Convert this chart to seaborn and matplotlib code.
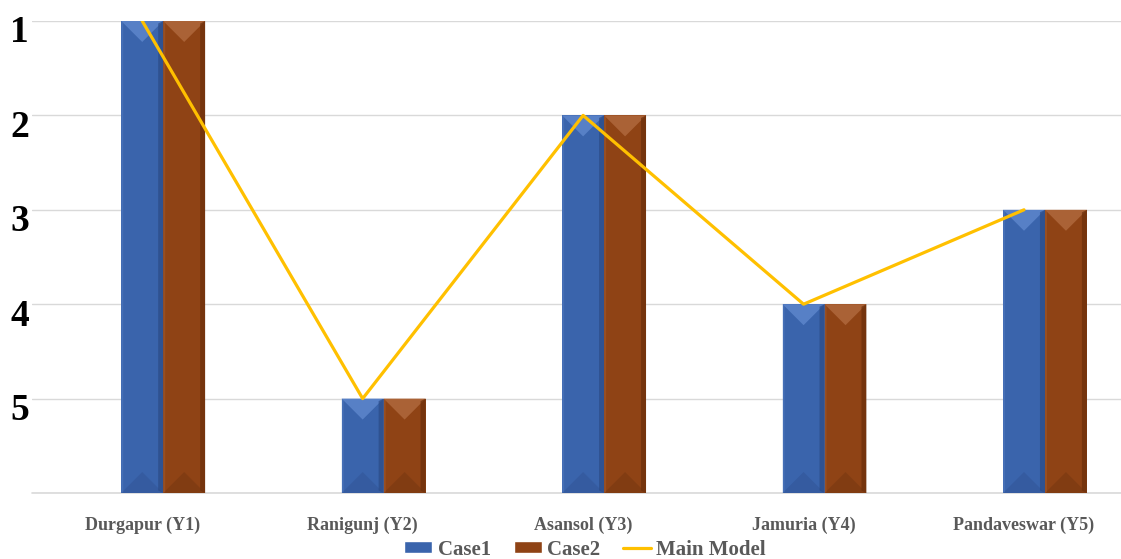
import numpy as np
import pandas as pd
import seaborn as sns
import matplotlib.pyplot as plt
import matplotlib.transforms as mtrans
from matplotlib.patches import Polygon, Patch
from matplotlib.lines import Line2D

# ranks per place (1 = best, drawn at top)
places = ["Durgapur (Y1)", "Ranigunj (Y2)", "Asansol (Y3)", "Jamuria (Y4)", "Pandaveswar (Y5)"]
case1 = [1, 5, 2, 4, 3]
case2 = [1, 5, 2, 4, 3]
main_model = [1, 5, 2, 4, 3]
rank_labels = ["1", "2", "3", "4", "5"]
BASE = 6  # bars grow up from rank 6

blue = "#3A64AC"
brown = "#8F4315"
gold = "#FFC000"
grey = "#595959"

sns.set_style("white")
plt.rcParams["font.family"] = ["Liberation Serif", "DejaVu Serif"]
plt.rcParams["font.weight"] = "bold"

df = pd.DataFrame({
    "place": places * 3,
    "series": ["_pad"] * 5 + ["Case1"] * 5 + ["Case2"] * 5,
    "rank": [BASE] * 5 + case1 + case2,
})
df["h"] = BASE - df["rank"]

fig = plt.figure(figsize=(11.21, 5.59), dpi=100)
ax = fig.add_axes([32 / 1121, 66 / 559, 1 - 32 / 1121, (493 - 21) / 559])

sns.barplot(data=df, x="place", y="h", hue="series", hue_order=["_pad", "Case1", "Case2"],
            palette=["white", blue, brown], width=0.571, gap=0, dodge=True,
            saturation=1, linewidth=0, legend=False, ax=ax, zorder=2)

ax.set_xlim(-0.5, 4.44)
ax.set_ylim(0, 5)

# bevel look on each bar
shades = {blue: ("#5780C6", "#33589C", "#2B4B86"), brown: ("#AA6236", "#7C3A12", "#6B2F0B")}
px_per_y = ax.transData.transform((0, 1))[1] - ax.transData.transform((0, 0))[1]
px_per_x = ax.transData.transform((1, 0))[0] - ax.transData.transform((0, 0))[0]
for p in list(ax.patches):
    h = p.get_height()
    if h <= 0:
        continue
    x0, w = p.get_x(), p.get_width()
    x1, xm = x0 + w, x0 + w / 2
    fc = blue if abs(p.get_facecolor()[2] - 0.67) < 0.1 else brown
    top, bot, side = shades[fc]
    d = (w * px_per_x / 2) / px_per_y
    ax.add_patch(Polygon([(x0, h), (x1, h), (xm, h - d)], closed=True, fc=top, lw=0, zorder=2.1))
    ax.add_patch(Polygon([(x0, 0), (x1, 0), (xm, d)], closed=True, fc=bot, lw=0, alpha=0.7, zorder=2.1))
    sw = w * 0.12
    ax.add_patch(Polygon([(x1 - sw, d * 0.12), (x1, 0), (x1, h), (x1 - sw, h - d * 0.12)],
                         closed=True, fc=side, lw=0, alpha=0.7, zorder=2.2))
    ax.add_patch(Polygon([(x0, 0), (x0 + sw * 0.4, d * 0.05), (x0 + sw * 0.4, h - d * 0.05), (x0, h)],
                         closed=True, fc=top, lw=0, alpha=0.4, zorder=2.2))

sns.lineplot(x=np.arange(len(places)), y=BASE - np.array(main_model), color=gold,
             linewidth=2.3, sort=False, ax=ax, zorder=3)

ax.set_yticks(range(6))
ax.set_yticklabels([""] + rank_labels[::-1], fontsize=27, fontweight="bold", color="black")
ax.set_xticks(range(len(places)))
ax.set_xticklabels(places, fontsize=13, fontweight="bold", color=grey)
ax.tick_params(axis="x", length=0, pad=17)
ax.tick_params(axis="y", length=0, pad=2)
for lab in ax.get_yticklabels():
    lab.set_transform(lab.get_transform() + mtrans.ScaledTranslation(0, -8 / 100, fig.dpi_scale_trans))
ax.set_xlabel("")
ax.set_ylabel("")
ax.yaxis.grid(True, color="#D9D9D9", linewidth=1)
ax.axhline(0, color="#D9D9D9", linewidth=1.2, clip_on=False, zorder=1)
ax.set_axisbelow(True)
for s in ax.spines.values():
    s.set_visible(False)

handles = [Patch(facecolor=blue), Patch(facecolor=brown), Line2D([], [], color=gold, linewidth=2.3)]
fig.legend(handles, ["Case1", "Case2", "Main Model"], loc="lower center",
           bbox_to_anchor=(0.522, -0.035), ncol=3, frameon=False,
           prop={"size": 15, "weight": "bold"}, labelcolor=grey,
           handlelength=1.35, handleheight=0.5, handletextpad=0.25, columnspacing=1.1)

fig.savefig("out.png", dpi=100)
